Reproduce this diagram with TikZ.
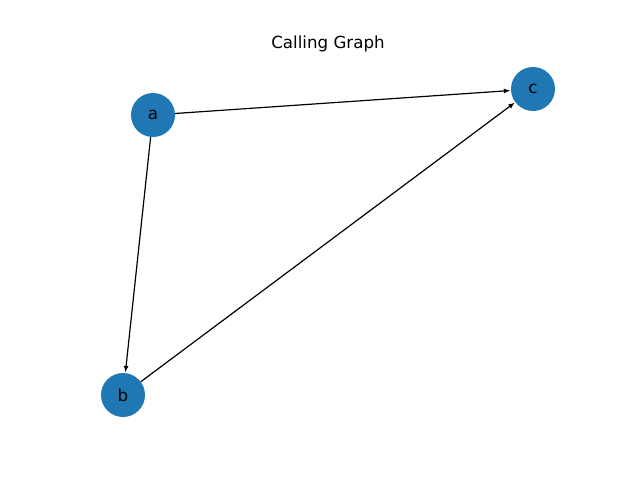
\documentclass[tikz,border=0pt]{standalone}
\usepackage{fontspec}
\setmainfont{DejaVu Sans}
\usetikzlibrary{arrows.meta}
\definecolor{tabblue}{HTML}{1F77B4}
\begin{document}
\begin{tikzpicture}[x=1pt,y=-1pt,
  gnode/.style={circle,fill=tabblue,minimum size=44pt,inner sep=0pt,font=\fontsize{16.67}{19}\selectfont},
  edge/.style={-{Latex[length=6.5pt,width=5pt]},line width=1.2pt,shorten >=0.5pt}]
\useasboundingbox (0,0) rectangle (640,480);
\node[font=\fontsize{16.67}{19}\selectfont] (title) at (328,44) {Calling Graph};
\node[gnode] (a) at (153,115) {a};
\node[gnode] (b) at (123,395) {b};
\node[gnode] (c) at (533,89) {c};
\draw[edge] (a) -- (c);
\draw[edge] (a) -- (b);
\draw[edge] (b) -- (c);
\end{tikzpicture}
\end{document}
